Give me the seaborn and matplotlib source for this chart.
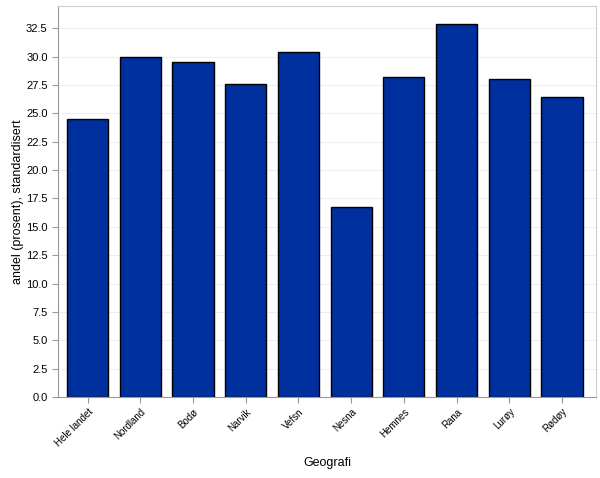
import matplotlib
matplotlib.use("Agg")
import matplotlib.pyplot as plt
import seaborn as sns
import pandas as pd

categories = ["Hele landet", "Nordland", "Bodø", "Narvik", "Vefsn", "Nesna",
              "Hemnes", "Rana", "Lurøy", "Rødøy"]
values = [24.47, 29.94, 29.5, 27.57, 30.38, 16.73, 28.24, 32.85, 28.07, 26.4]
yticks = [0.0, 2.5, 5.0, 7.5, 10.0, 12.5, 15.0, 17.5, 20.0, 22.5, 25.0, 27.5, 30.0, 32.5]

sns.set_style("white")
plt.rcParams['font.family'] = ['Liberation Sans', 'DejaVu Sans']
plt.rcParams['text.color'] = 'black'
plt.rcParams['axes.labelcolor'] = 'black'
plt.rcParams['xtick.color'] = 'black'
plt.rcParams['ytick.color'] = 'black'

df = pd.DataFrame({"Geografi": categories, "andel": values})

fig = plt.figure(figsize=(6.0, 4.78), dpi=100)
ax = fig.add_axes([58/600, 81/478, 538/600, 391/478])

sns.barplot(data=df, x="Geografi", y="andel", color="#002f9e", saturation=1,
            edgecolor="black", linewidth=1.0, width=0.78, ax=ax)

ax.set_xlim(-0.56, 9.645)
ax.set_ylim(0, 34.46)
ax.set_yticks(yticks)
ax.set_yticklabels([f"{t:.1f}" for t in yticks], fontsize=8)
ax.yaxis.grid(True, color="#eeeeee", linewidth=0.8)
ax.set_axisbelow(True)
ax.set_xticks(range(len(categories)))
ax.set_xticklabels(categories, rotation=45, ha="right", rotation_mode="anchor", fontsize=7)
ax.tick_params(axis="both", length=4, color="#999999", labelcolor="black",
               direction="out", left=True, bottom=True)
ax.tick_params(axis="x", pad=3)

for s in ["left", "bottom"]:
    ax.spines[s].set_color("#999999")
for s in ["top", "right"]:
    ax.spines[s].set_color("#cccccc")

ax.set_ylabel("andel (prosent), standardisert", fontsize=9, color="black")
ax.set_xlabel("Geografi", fontsize=9, color="black")
ax.yaxis.set_label_coords(-0.063, 0.5)
ax.xaxis.set_label_coords(0.5, -0.153)

fig.savefig("out.png", dpi=100)
